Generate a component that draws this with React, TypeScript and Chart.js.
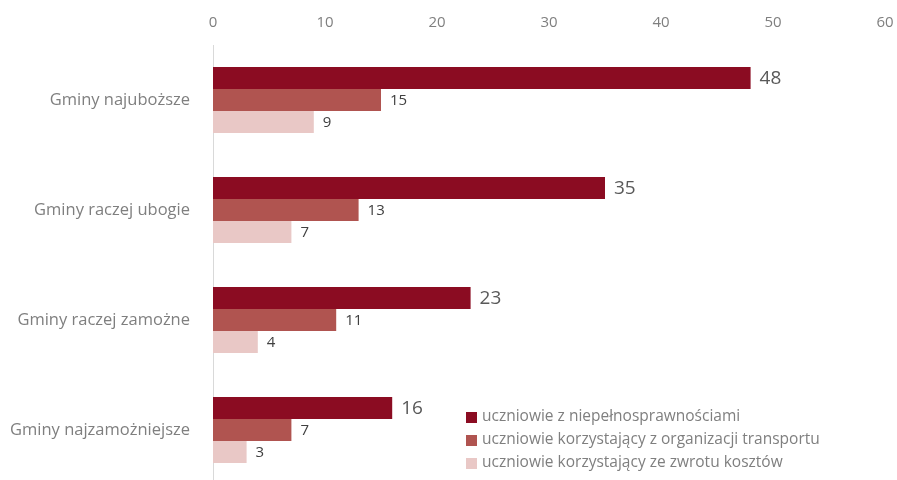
import React, { useEffect, useRef } from "react";
import { Chart, registerables } from "chart.js";

Chart.register(...registerables);

const categories = [
  "Gminy najuboższe",
  "Gminy raczej ubogie",
  "Gminy raczej zamożne",
  "Gminy najzamożniejsze",
];
const seriesNames = [
  "uczniowie z niepełnosprawnościami",
  "uczniowie korzystający z organizacji transportu",
  "uczniowie korzystający ze zwrotu kosztów",
];
const disabled = [48, 35, 23, 16];
const transport = [15, 13, 11, 7];
const refund = [9, 7, 4, 3];
const colors = ["#8B0C22", "#B05450", "#E9C8C6"];
const xTicks = { min: 0, max: 60, step: 10 };

const FONT = "'Open Sans', 'Noto Sans', sans-serif";

const labelPlugin = {
  id: "valueLabels",
  afterDatasetsDraw(chart: any) {
    const ctx = chart.ctx;
    ctx.save();
    chart.data.datasets.forEach((ds: any, i: number) => {
      const meta = chart.getDatasetMeta(i);
      meta.data.forEach((el: any, j: number) => {
        ctx.font = i === 0 ? `19px ${FONT}` : `15px ${FONT}`;
        ctx.fillStyle = i === 0 ? "#595959" : "#404040";
        ctx.textAlign = "left";
        ctx.textBaseline = "middle";
        ctx.fillText(String(ds.data[j]), el.x + 9, el.y + 1);
      });
    });
    ctx.restore();
  },
};

const legendPlugin = {
  id: "innerLegend",
  afterDraw(chart: any) {
    const ctx = chart.ctx;
    const boxX = 466;
    const startY = 417;
    const gap = 23;
    ctx.save();
    chart.data.datasets.forEach((ds: any, i: number) => {
      const cy = startY + i * gap;
      ctx.fillStyle = ds.backgroundColor;
      ctx.fillRect(boxX, cy - 5, 11, 11);
      ctx.font = `15.5px ${FONT}`;
      ctx.fillStyle = "#7f7f7f";
      ctx.textAlign = "left";
      ctx.textBaseline = "middle";
      ctx.fillText(ds.label, boxX + 16, cy);
    });
    ctx.restore();
  },
};

export default function App() {
  const ref = useRef<HTMLCanvasElement | null>(null);
  useEffect(() => {
    if (!ref.current) return;
    const chart = new Chart(ref.current, {
      type: "bar",
      data: {
        labels: categories,
        datasets: [
          { label: seriesNames[0], data: disabled, backgroundColor: colors[0] },
          { label: seriesNames[1], data: transport, backgroundColor: colors[1] },
          { label: seriesNames[2], data: refund, backgroundColor: colors[2] },
        ],
      },
      options: {
        indexAxis: "y",
        animation: false,
        responsive: false,
        maintainAspectRatio: false,
        layout: { padding: { left: 0, right: 12, top: 0, bottom: 0 } },
        datasets: {
          bar: { categoryPercentage: 0.6, barPercentage: 1.0 },
        },
        plugins: {
          legend: { display: false },
          tooltip: { enabled: false },
        },
        scales: {
          x: {
            position: "top",
            min: xTicks.min,
            max: xTicks.max,
            grid: { display: false, drawTicks: false },
            border: { display: false },
            ticks: {
              stepSize: xTicks.step,
              color: "#7f7f7f",
              font: { family: FONT, size: 15 },
              padding: 13,
            },
            afterFit(scale: any) {
              scale.height = 45;
              scale.paddingLeft = 0;
              scale.paddingRight = 0;
            },
          },
          y: {
            grid: { display: false, drawTicks: false },
            border: { display: true, color: "#d9d9d9", width: 1 },
            ticks: {
              color: "#7f7f7f",
              font: { family: FONT, size: 16.5 },
              padding: 23,
            },
            afterFit(scale: any) {
              scale.width = 213;
              scale.paddingTop = 0;
              scale.paddingBottom = 0;
            },
          },
        },
      },
      plugins: [labelPlugin, legendPlugin],
    } as any);
    return () => chart.destroy();
  }, []);
  return (
    <div
      style={{
        position: "fixed",
        left: 0,
        top: 0,
        width: 897,
        height: 480,
        overflow: "hidden",
        background: "#fff",
      }}
    >
      <canvas ref={ref} width={897} height={485} style={{ display: "block" }} />
    </div>
  );
}
